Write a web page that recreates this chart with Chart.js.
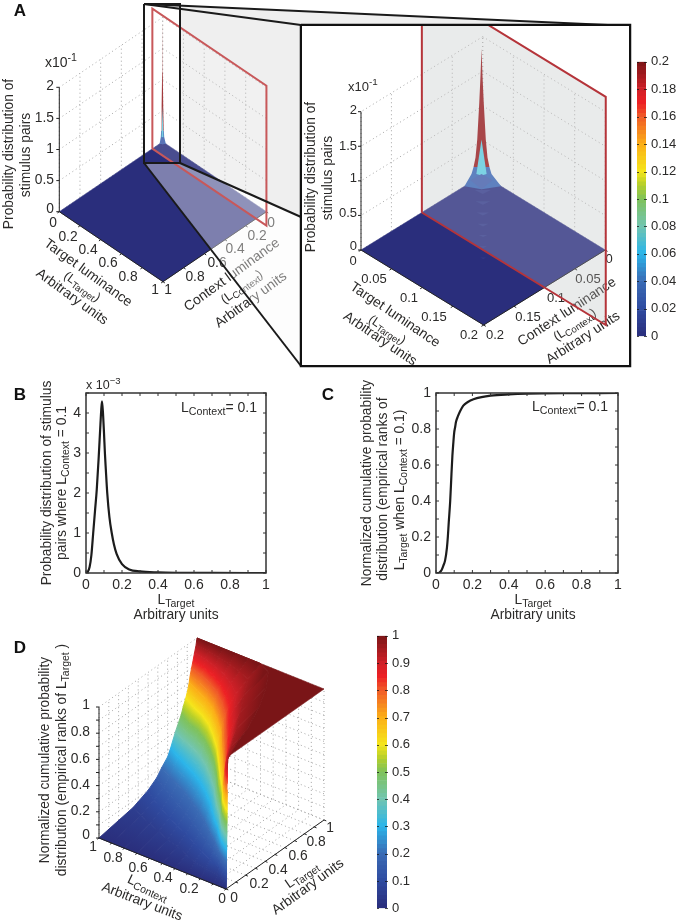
<!DOCTYPE html>
<html>
<head>
<meta charset="utf-8">
<script src="https://cdn.jsdelivr.net/npm/chart.js@4"></script>
<style>
  html, body { margin: 0; padding: 0; background: #fff; }
  #page { position: relative; width: 680px; height: 924px; overflow: hidden; }
  canvas { position: absolute; }
</style>
</head>
<body>
<div id="page">
  <canvas id="sceneA" style="left:0;top:0" width="680" height="372"></canvas>
  <canvas id="inset" style="left:302px;top:26px;background:#fff" width="327" height="339"></canvas>
  <canvas id="barA" style="left:637px;top:49px" width="43" height="300"></canvas>
  <canvas id="lineB" style="left:0;top:372px" width="340" height="250"></canvas>
  <canvas id="lineC" style="left:340px;top:372px" width="340" height="250"></canvas>
  <canvas id="sceneD" style="left:0;top:622px" width="372" height="302"></canvas>
  <canvas id="barD" style="left:377px;top:623px" width="44" height="298"></canvas>
</div>
<script>
// panel B: probability (x10^-3) against L target
const probT = [0, .01, .02, .03, .04, .05, .06, .07, .08, .085, .089, .095, .1, .105, .11, .118, .13, .143, .155, .17, .2, .24, .3, .4, .5, .7, 1];
const probY = [0, .03, .15, .45, 1, 1.55, 2.1, 2.85, 3.7, 4.1, 4.29, 3.95, 3.5, 3, 2.6, 2, 1.4, 1, .72, .48, .22, .09, .04, .015, .005, .001, 0];

// panel C: normalized cumulative probability against L target
const cumT = [0, .01, .02, .03, .04, .05, .06, .065, .07, .078, .085, .09, .095, .1, .105, .11, .12, .133, .15, .175, .206, .25, .3, .4, .5, .7, 1];
const cumY = [0, 0, .004, .015, .04, .07, .14, .2, .28, .4, .55, .65, .72, .78, .81, .84, .87, .9, .93, .95, .965, .977, .985, .992, .996, .999, 1];

// panel A: the peak of the joint distribution (z in x10^-1)
const peakAt = [.006, .008];
const spireZ = [1.9, 1.52, 1.13, .59, .33, .19, .09];
const spireW = [0, .0008, .0018, .0035, .0049, .0065, .0082];
const ridgeT = [.02, .035, .05, .065, .08, .095, .11];
const ridgeW = [.0066, .006, .005, .0045, .0035, .003, .0025];

// panel D: target luminance reached at each rank level, one row per context
const rankLevels = [0, .05, .1, .15, .2, .25, .3, .35, .4, .45, .5, .55, .6, .65, .7, .75, .8, .85, .9, .95, 1];
const contexts = [0, .03, .06, .1, .2, .3, .4, .5, .6, .7, .8, .9, 1];
const targetAt = [
  [0, .002, .003, .004, .005, .005, .006, .006, .007, .007, .008, .008, .009, .009, .01, .01, .011, .012, .013, .016, .02],
  [0, .013, .016, .018, .02, .021, .022, .023, .024, .025, .026, .026, .028, .029, .029, .031, .032, .035, .041, .053, .12],
  [0, .025, .032, .036, .039, .041, .044, .046, .047, .049, .051, .053, .055, .057, .059, .061, .064, .071, .082, .105, .2],
  [0, .042, .053, .06, .065, .069, .073, .076, .079, .082, .085, .088, .092, .095, .098, .102, .107, .118, .136, .175, .35],
  [0, .05, .095, .125, .145, .16, .172, .18, .187, .195, .2, .207, .215, .222, .23, .24, .255, .275, .31, .37, .6],
  [0, .07, .14, .19, .22, .24, .26, .275, .285, .295, .305, .315, .325, .335, .35, .365, .385, .42, .47, .53, .8],
  [0, .11, .19, .25, .3, .33, .36, .38, .395, .41, .42, .43, .44, .45, .465, .485, .51, .545, .6, .7, .95],
  [0, .15, .24, .31, .37, .41, .445, .47, .49, .51, .525, .54, .55, .57, .59, .61, .64, .68, .75, .87, 1],
  [0, .18, .28, .37, .43, .48, .52, .55, .575, .595, .615, .63, .645, .665, .685, .705, .735, .775, .825, .91, 1],
  [0, .22, .33, .42, .49, .54, .58, .615, .645, .67, .69, .71, .73, .75, .77, .79, .815, .845, .885, .94, 1],
  [0, .26, .38, .47, .54, .59, .63, .665, .695, .725, .75, .77, .79, .81, .83, .85, .87, .9, .925, .96, 1],
  [0, .3, .43, .53, .59, .64, .68, .71, .735, .76, .785, .81, .835, .855, .875, .895, .915, .935, .955, .98, 1],
  [0, .35, .5, .59, .64, .7, .73, .755, .78, .81, .84, .86, .885, .905, .92, .93, .945, .96, .975, .99, 1]
];

const cmapStops = [
  [0, '#2a2e7c'], [.1, '#2f4ba0'], [.2, '#3a6cb5'], [.3, '#2bb5ea'], [.4, '#72c5b0'], [.5, '#7fc25a'],
  [.55, '#b5cf2a'], [.6, '#f5e51b'], [.7, '#fbae17'], [.8, '#f05a28'], [.85, '#ed2024'], [.9, '#ce2027'], [1, '#7a1517']
];
const FONT = '"Liberation Sans", Arial, sans-serif';
const INK = '#2b2a29';
const DOT = '#a4a4a4';

function hexRgb(h) { return [1, 3, 5].map(i => parseInt(h.substr(i, 2), 16)); }
function cmap(v) {
  for (let i = 1; i < cmapStops.length; i++) {
    if (v <= cmapStops[i][0]) {
      const a = cmapStops[i - 1], b = cmapStops[i];
      const f = (v - a[0]) / (b[0] - a[0]);
      const ca = hexRgb(a[1]), cb = hexRgb(b[1]);
      return 'rgb(' + ca.map((x, k) => Math.round(x + (cb[k] - x) * f)).join(',') + ')';
    }
  }
  return cmapStops[cmapStops.length - 1][1];
}

// text helper, understands _{sub} and ^{sup}; coordinates are page pixels
function drawLabel(ctx, l) {
  const size = l.size || 13.8;
  const parts = l.s.split(/(_\{.*?\}|\^\{.*?\})/).filter(p => p).map(p => {
    if (p[0] === '_' && p[1] === '{') return { t: p.slice(2, -1), size: size * .76, dy: size * .28 };
    if (p[0] === '^' && p[1] === '{') return { t: p.slice(2, -1), size: size * .76, dy: -size * .38 };
    return { t: p, size: size, dy: 0 };
  });
  const w = (l.weight || '') + ' ';
  let total = 0;
  parts.forEach(p => { ctx.font = w + p.size + 'px ' + FONT; p.w = ctx.measureText(p.t).width; total += p.w; });
  ctx.save();
  ctx.translate(l.x, l.y);
  ctx.rotate((l.rot || 0) * Math.PI / 180);
  ctx.fillStyle = l.color || INK;
  ctx.textBaseline = 'middle';
  ctx.textAlign = 'left';
  let x = l.align === 'right' ? -total : l.align === 'left' ? 0 : -total / 2;
  parts.forEach(p => {
    ctx.font = w + p.size + 'px ' + FONT;
    ctx.fillText(p.t, x, p.dy);
    x += p.w;
  });
  ctx.restore();
}

function textPlugin(labels, ox, oy, afterIndex) {
  const paint = chart => {
    const ctx = chart.ctx;
    ctx.save();
    ctx.translate(-ox, -oy);
    labels.forEach(l => drawLabel(ctx, l));
    ctx.restore();
  };
  if (afterIndex === undefined) return { id: 'pageText', afterDraw: paint };
  return { id: 'pageText', afterDatasetDraw(chart, args) { if (args.index === afterIndex) paint(chart); } };
}

// scene charts: the scales run in page pixels, the 3d views are projected onto them
function project(v, t, c, z) {
  return { x: v.bx + t * v.tx + c * v.cx, y: v.by + t * v.ty + c * v.cy - z * v.zp };
}
function poly(list, pts, opt) {
  opt = opt || {};
  list.push({
    data: pts, showLine: true, pointRadius: 0, tension: 0,
    fill: opt.fill ? 'shape' : false,
    backgroundColor: opt.fill || 'transparent',
    borderColor: opt.stroke || 'transparent',
    borderWidth: opt.width === undefined ? (opt.stroke ? 1 : 0) : opt.width,
    borderDash: opt.dash || [],
    borderCapStyle: opt.cap || 'butt'
  });
}
function closed(pts) { return pts.concat([pts[0]]); }
function sceneChart(id, datasets, left, top, w, h, plugins) {
  datasets.forEach((d, i) => { d.order = -i; });
  return new Chart(document.getElementById(id), {
    type: 'scatter',
    data: { datasets: datasets },
    plugins: plugins,
    options: {
      responsive: false, animation: false, events: [],
      layout: { padding: 0 },
      plugins: { legend: { display: false }, tooltip: { enabled: false } },
      scales: {
        x: { type: 'linear', display: false, min: left, max: left + w },
        y: { type: 'linear', display: false, min: top, max: top + h, reverse: true }
      }
    }
  });
}

// back walls of a 3d box, dotted
function wallLines(list, v, tKeep, cKeep, tTicks, cTicks, zTicks, zTop) {
  const o = { stroke: DOT, width: 1, dash: [1, 3] };
  zTicks.forEach(z => {
    poly(list, [project(v, tTicks[0], cKeep, z), project(v, tTicks[tTicks.length - 1], cKeep, z)], o);
    poly(list, [project(v, tKeep, cTicks[0], z), project(v, tKeep, cTicks[cTicks.length - 1], z)], o);
  });
  tTicks.forEach(t => poly(list, [project(v, t, cKeep, 0), project(v, t, cKeep, zTop)], o));
  cTicks.forEach(c => poly(list, [project(v, tKeep, c, 0), project(v, tKeep, c, zTop)], o));
}

function axisLines(list, v, m, tTicks, cTicks, zTicks, tEdge, cEdge, zT, zC) {
  const o = { stroke: '#222', width: 1 };
  const tick = .018 * m;
  poly(list, [project(v, zT, zC, 0), project(v, zT, zC, zTicks[zTicks.length - 1])], o);
  zTicks.forEach(z => {
    const p = project(v, zT, zC, z);
    poly(list, [p, { x: p.x - 3, y: p.y }], o);
  });
  poly(list, [project(v, 0, cEdge, 0), project(v, m, cEdge, 0)], o);
  poly(list, [project(v, tEdge, 0, 0), project(v, tEdge, m, 0)], o);
  const sc = cEdge > 0 ? 1 : -1, st = tEdge > 0 ? 1 : -1;
  tTicks.forEach(t => poly(list, [project(v, t, cEdge, 0), project(v, t, cEdge + sc * tick, 0)], o));
  cTicks.forEach(c => poly(list, [project(v, tEdge, c, 0), project(v, tEdge + st * tick, c, 0)], o));
}

function probSurface(list, v, m) {
  const t0 = peakAt[0], c0 = peakAt[1];
  poly(list, closed([project(v, 0, 0, 0), project(v, m, 0, 0), project(v, m, m, 0), project(v, 0, m, 0)]), { fill: cmap(0), stroke: cmap(0), width: .5 });
  // faint ridge along the diagonal, in front of the peak
  ridgeT.forEach((t, i) => {
    const w = ridgeW[i];
    poly(list, closed([project(v, t + w, t - w, 0), project(v, t - w, t + w, 0), project(v, t + w * .8, t + w * .8, 0)]), { fill: 'rgba(90,130,205,.14)' });
  });
  const side = (sign, from, to) => spireZ.slice(from, to).map((z, i) => project(v, t0 + sign * spireW[from + i], c0 - sign * spireW[from + i], z));
  // lower flanks run out onto the floor edges
  poly(list, closed(side(1, 5, 7).concat([project(v, .03, 0, 0), project(v, t0 + .012, c0 + .012, 0), project(v, 0, .03, 0)]).concat(side(-1, 5, 7).reverse())), { fill: cmap(.17) });
  // red upper part
  poly(list, closed(side(1, 0, 6).concat(side(-1, 0, 6).reverse())), { fill: cmap(.97) });
  // cyan facet
  poly(list, closed([project(v, t0, c0, spireZ[3]), project(v, t0 + .0042, c0 - .0042, spireZ[6]), project(v, t0 + .002, c0 + .002, spireZ[6]), project(v, t0 - .0042, c0 + .0042, spireZ[6])]), { fill: '#5cc7dc' });
  // front chevron
  poly(list, closed([project(v, t0, c0, spireZ[6]), project(v, t0 + .009, c0 - .009, 0), project(v, t0 + .012, c0 + .012, 0), project(v, t0 - .009, c0 + .009, 0)]), { fill: '#3f5aa8' });
}

function redPlane(list, v, tEnd, zTop, fill) {
  const c = .1;
  const pts = closed([project(v, 0, c, 0), project(v, tEnd, c, 0), project(v, tEnd, c, zTop), project(v, 0, c, zTop)]);
  poly(list, pts, { fill: fill });
  return pts;
}

// ---- panel A, full range view
const viewFull = { bx: 162.7, by: 141.7, tx: 103.7, ty: 70, cx: -103.4, cy: 70, zp: 62.2 };
const ticks02 = [0, .2, .4, .6, .8, 1];
const zTicksA = [0, .5, 1, 1.5, 2];
const labelsA = [
  { s: 'A', x: 20, y: 11, size: 17, weight: 'bold', color: '#111' },
  { s: 'x10^{-1}', x: 45, y: 63, size: 14, align: 'left' },
  { s: '2', x: 54, y: 86, align: 'right' }, { s: '1.5', x: 54, y: 118, align: 'right' },
  { s: '1', x: 54, y: 149, align: 'right' }, { s: '0.5', x: 54, y: 180, align: 'right' },
  { s: '0', x: 54, y: 209, align: 'right' },
  { s: 'Probability distribution of', x: 9, y: 154, rot: -90 },
  { s: 'stimulus pairs', x: 26, y: 155, rot: -90 },
  { s: '0', x: 53, y: 223 }, { s: '0.2', x: 68, y: 237 }, { s: '0.4', x: 88, y: 250 },
  { s: '0.6', x: 108, y: 263 }, { s: '0.8', x: 128, y: 277 }, { s: '1', x: 155, y: 290 },
  { s: '1', x: 168, y: 290 }, { s: '0.8', x: 195, y: 277 }, { s: '0.6', x: 217, y: 263 },
  { s: '0.4', x: 235, y: 249 }, { s: '0.2', x: 257, y: 236 }, { s: '0', x: 271, y: 223 },
  { s: 'Target luminance', x: 88, y: 273, rot: 36 },
  { s: '(L_{Target})', x: 82, y: 287, rot: 36, size: 12.5 },
  { s: 'Arbitrary units', x: 72, y: 297, rot: 36 },
  { s: 'Context luminance', x: 232, y: 275, rot: -36 },
  { s: '(L_{Context})', x: 242, y: 287, rot: -36, size: 12.5 },
  { s: 'Arbitrary units', x: 251, y: 300, rot: -36 }
];
const setA = [];
const frame = { stroke: '#1a1a1a', width: 2 };
poly(setA, closed([{ x: 144, y: 4 }, { x: 630, y: 26 }, { x: 301, y: 25 }]), { fill: '#efefef' });
poly(setA, closed([{ x: 180, y: 9 }, { x: 301, y: 25 }, { x: 301, y: 217 }, { x: 180, y: 163 }]), { fill: '#efefef' });
wallLines(setA, viewFull, 0, 0, ticks02, ticks02, zTicksA, 2);
probSurface(setA, viewFull, 1);
const planeA = redPlane(setA, viewFull, 1.1, 2.25, 'rgba(255,255,255,.15)');
axisLines(setA, viewFull, 1, ticks02, ticks02, zTicksA, 1, 1, 0, 1);
poly(setA, closed([{ x: 144, y: 163 }, { x: 180, y: 163 }, { x: 301, y: 217 }, { x: 301, y: 366 }]), { fill: 'rgba(250,250,250,.4)' });
poly(setA, planeA, { stroke: '#c8585a', width: 2 });
poly(setA, closed([{ x: 144, y: 4 }, { x: 180, y: 4 }, { x: 180, y: 163 }, { x: 144, y: 163 }]), frame);
poly(setA, [{ x: 144, y: 4 }, { x: 630, y: 26 }], frame);
poly(setA, [{ x: 144, y: 4 }, { x: 301, y: 25 }], frame);
poly(setA, [{ x: 144, y: 163 }, { x: 301, y: 366 }], frame);
poly(setA, [{ x: 180, y: 163 }, { x: 301, y: 217 }], frame);
poly(setA, closed([{ x: 301, y: 25 }, { x: 630, y: 25 }, { x: 630, y: 366 }, { x: 301, y: 366 }]), { stroke: '#111', width: 2.5 });
sceneChart('sceneA', setA, 0, 0, 680, 372, [textPlugin(labelsA, 0, 0, 1)]);

// ---- panel A, zoomed inset
const viewInset = { bx: 482.7, by: 175, tx: 613, ty: 375, cx: -608.5, cy: 375, zp: 69.15 };
const ticks005 = [0, .05, .1, .15, .2];
const labelsInset = [
  { s: 'x10^{-1}', x: 348, y: 87, size: 13, align: 'left' },
  { s: '2', x: 357, y: 110, size: 13, align: 'right' }, { s: '1.5', x: 357, y: 146, size: 13, align: 'right' },
  { s: '1', x: 357, y: 178, size: 13, align: 'right' }, { s: '0.5', x: 357, y: 213, size: 13, align: 'right' },
  { s: '0', x: 357, y: 246, size: 13, align: 'right' },
  { s: 'Probability distribution of', x: 311, y: 177, rot: -90 },
  { s: 'stimulus pairs', x: 328, y: 178, rot: -90 },
  { s: '0', x: 353, y: 261, size: 13 }, { s: '0.05', x: 374, y: 279, size: 13 }, { s: '0.1', x: 409, y: 298, size: 13 },
  { s: '0.15', x: 434, y: 317, size: 13 }, { s: '0.2', x: 469, y: 335, size: 13 },
  { s: '0.2', x: 495, y: 335, size: 13 }, { s: '0.15', x: 528, y: 317, size: 13 }, { s: '0.1', x: 556, y: 298, size: 13 },
  { s: '0.05', x: 588, y: 279, size: 13 }, { s: '0', x: 609, y: 259, size: 13 },
  { s: 'Target luminance', x: 395, y: 315, rot: 34 },
  { s: '(L_{Target})', x: 387, y: 330, rot: 34, size: 12.5 },
  { s: 'Arbitrary units', x: 380, y: 339, rot: 34 },
  { s: 'Context luminance', x: 567, y: 312, rot: -33 },
  { s: '(L_{Context})', x: 575, y: 325, rot: -33, size: 12.5 },
  { s: 'Arbitrary units', x: 583, y: 338, rot: -33 }
];
const setInset = [];
const planeInset = redPlane(setInset, viewInset, .3, 3.3, '#e4e6e6');
wallLines(setInset, viewInset, 0, 0, ticks005, ticks005, zTicksA, 2);
probSurface(setInset, viewInset, .2);
axisLines(setInset, viewInset, .2, ticks005, ticks005, zTicksA, .2, .2, 0, .2);
poly(setInset, planeInset, { fill: 'rgba(255,255,255,.2)' });
poly(setInset, planeInset, { stroke: '#b5343a', width: 2 });
sceneChart('inset', setInset, 302, 26, 327, 339, [textPlugin(labelsInset, 302, 26, 0)]);

// ---- line panels B and C
const boxTicks = {
  id: 'boxTicks',
  afterDatasetsDraw(chart) {
    const { ctx, chartArea: a, scales } = chart;
    ctx.save();
    ctx.strokeStyle = '#333';
    ctx.lineWidth = 1;
    ctx.beginPath();
    scales.x.ticks.forEach(t => {
      const p = scales.x.getPixelForValue(t.value);
      ctx.moveTo(p, a.bottom); ctx.lineTo(p, a.bottom - 3);
      ctx.moveTo(p, a.top); ctx.lineTo(p, a.top + 3);
    });
    scales.y.ticks.forEach(t => {
      const p = scales.y.getPixelForValue(t.value);
      ctx.moveTo(a.left, p); ctx.lineTo(a.left + 3, p);
      ctx.moveTo(a.right, p); ctx.lineTo(a.right - 3, p);
    });
    ctx.stroke();
    ctx.lineWidth = 1.5;
    ctx.strokeRect(a.left, a.top, a.right - a.left, a.bottom - a.top);
    ctx.restore();
  }
};
function lineChart(id, xs, ys, yMax, yStep, yLabel, padding, lineWidth, labels, ox, oy) {
  return new Chart(document.getElementById(id), {
    type: 'line',
    data: { datasets: [{ data: xs.map((x, i) => ({ x: x, y: ys[i] })), borderColor: '#1c1c1c', borderWidth: lineWidth, pointRadius: 0, cubicInterpolationMode: 'monotone', fill: false }] },
    plugins: [boxTicks, textPlugin(labels, ox, oy)],
    options: {
      responsive: false, animation: false, events: [],
      layout: { padding: padding },
      plugins: { legend: { display: false }, tooltip: { enabled: false } },
      scales: {
        x: {
          type: 'linear', min: 0, max: 1,
          grid: { display: false, drawTicks: false }, border: { display: false },
          afterFit: s => { s.height = 20; },
          ticks: {
            stepSize: .1, autoSkip: false, maxRotation: 0, padding: 4,
            color: INK, font: { family: FONT, size: 14 },
            callback: v => (Math.round(v * 10) % 2 === 0 ? String(+v.toFixed(1)) : '')
          }
        },
        y: {
          type: 'linear', min: 0, max: yMax,
          grid: { display: false, drawTicks: false }, border: { display: false },
          afterFit: s => { s.width = 30; },
          ticks: {
            stepSize: yStep, autoSkip: false, padding: 5,
            color: INK, font: { family: FONT, size: 14 },
            callback: yLabel
          }
        }
      }
    }
  });
}
const labelsB = [
  { s: 'B', x: 20, y: 395, size: 17, weight: 'bold', color: '#111' },
  { s: 'C', x: 328, y: 395, size: 17, weight: 'bold', color: '#111' },
  { s: 'x 10^{−3}', x: 86, y: 386, size: 12.5, align: 'left' },
  { s: 'Probability distribution of stimulus', x: 47, y: 483, rot: -90 },
  { s: 'pairs where L_{Context} = 0.1', x: 62, y: 483, rot: -90 },
  { s: 'L_{Target}', x: 176, y: 600 },
  { s: 'Arbitrary units', x: 176, y: 615 },
  { s: 'L_{Context}= 0.1', x: 219, y: 408, size: 14 }
];
const labelsC = [
  { s: 'Normalized cumulative probability', x: 367, y: 483, rot: -90 },
  { s: 'distribution (empirical ranks of', x: 383, y: 489, rot: -90 },
  { s: 'L_{Target} when L_{Context} = 0.1)', x: 400, y: 490, rot: -90 },
  { s: 'L_{Target}', x: 533, y: 600 },
  { s: 'Arbitrary units', x: 533, y: 615 },
  { s: 'L_{Context}= 0.1', x: 570, y: 407, size: 14 }
];
lineChart('lineB', probT, probY, 4.5, .5, v => (Number.isInteger(v) ? String(v) : ''),
  { left: 56, right: 74, top: 21, bottom: 29 }, 2.2, labelsB, 0, 372);
lineChart('lineC', cumT, cumY, 1, .1, v => (Math.round(v * 10) % 2 === 0 ? String(+v.toFixed(1)) : ''),
  { left: 66, right: 62, top: 21, bottom: 29 }, 2.2, labelsC, 340, 372);

// ---- panel D, rank surface
const viewD = { bx: 226, by: 889, tx: 98, ty: -69, cx: -127, cy: -51, zp: 131 };
const ticks01 = [0, .1, .2, .3, .4, .5, .6, .7, .8, .9, 1];
const setD = [];
const ctxD = document.getElementById('sceneD').getContext('2d');
// floor and the two back walls
ticks01.forEach(a => {
  const o = { stroke: DOT, width: 1, dash: [1, 3] };
  poly(setD, [project(viewD, a, 0, 0), project(viewD, a, 1, 0)], o);
  poly(setD, [project(viewD, 0, a, 0), project(viewD, 1, a, 0)], o);
});
wallLines(setD, viewD, 1, 1, ticks01, ticks01, ticks01, 1);
// plateau at rank 1
poly(setD, closed(contexts.map((c, i) => project(viewD, targetAt[i][20], c, 1)).concat(contexts.map(c => project(viewD, 1, c, 1)).reverse())), { fill: cmap(1), stroke: cmap(1), width: .6 });

// one cell between two contexts and two rank levels, shaded across the cell
function rankCell(i, k) {
  const a = project(viewD, targetAt[i][k], contexts[i], rankLevels[k]);
  const b = project(viewD, targetAt[i + 1][k], contexts[i + 1], rankLevels[k]);
  const c = project(viewD, targetAt[i + 1][k + 1], contexts[i + 1], rankLevels[k + 1]);
  const d = project(viewD, targetAt[i][k + 1], contexts[i], rankLevels[k + 1]);
  const mx = (a.x + b.x) / 2, my = (a.y + b.y) / 2;
  const ex = b.x - a.x, ey = b.y - a.y, len = Math.hypot(ex, ey) || 1;
  const nx = -ey / len, ny = ex / len;
  const dot = ((c.x + d.x) / 2 - mx) * nx + ((c.y + d.y) / 2 - my) * ny;
  const g = ctxD.createLinearGradient(mx, my - 622, mx + nx * dot, my + ny * dot - 622);
  g.addColorStop(0, cmap(rankLevels[k]));
  g.addColorStop(1, cmap(rankLevels[k + 1]));
  poly(setD, closed([a, b, c, d]), { fill: g, stroke: g, width: 1 });
}
// far (high) levels first, the near ones paint over them
for (let k = rankLevels.length - 2; k >= 0; k--) {
  for (let i = 0; i < contexts.length - 1; i++) rankCell(i, k);
}
axisLines(setD, viewD, 1, ticks01, ticks01, ticks01, 0, 0, 0, 1);
const labelsD = [
  { s: 'D', x: 20, y: 648, size: 17, weight: 'bold', color: '#111' },
  { s: 'Normalized cumulative probability', x: 45, y: 760, rot: -90 },
  { s: 'distribution (empirical ranks of L_{Target} )', x: 62, y: 760, rot: -90 },
  { s: '1', x: 90, y: 705, align: 'right' }, { s: '0.8', x: 90, y: 732, align: 'right' },
  { s: '0.6', x: 90, y: 759, align: 'right' }, { s: '0.4', x: 90, y: 785, align: 'right' },
  { s: '0.2', x: 90, y: 811, align: 'right' }, { s: '0', x: 90, y: 835, align: 'right' },
  { s: '1', x: 93, y: 847 }, { s: '0.8', x: 113, y: 858 }, { s: '0.6', x: 138, y: 868 },
  { s: '0.4', x: 163, y: 878 }, { s: '0.2', x: 189, y: 889 }, { s: '0', x: 222, y: 899 },
  { s: '0', x: 234, y: 898 }, { s: '0.2', x: 259, y: 884 }, { s: '0.4', x: 278, y: 870 },
  { s: '0.6', x: 298, y: 856 }, { s: '0.8', x: 316, y: 842 }, { s: '1', x: 330, y: 828 },
  { s: 'L_{Context}', x: 148, y: 888, rot: 25 },
  { s: 'Arbitrary units', x: 142, y: 902, rot: 21 },
  { s: 'L_{Target}', x: 302, y: 875, rot: -35 },
  { s: 'Arbitrary units', x: 308, y: 887, rot: -36 }
];
sceneChart('sceneD', setD, 0, 622, 372, 302, [textPlugin(labelsD, 0, 622)]);

// ---- colour bars
function colourBar(id, max, step, digits) {
  const segs = Array.from({ length: 64 }, (_, i) => i);
  new Chart(document.getElementById(id), {
    type: 'bar',
    data: {
      labels: [''],
      datasets: segs.map(i => ({
        data: [[i / 64 * max, (i + 1) / 64 * max]],
        backgroundColor: cmap((i + .5) / 64), borderWidth: 0, barPercentage: 1, categoryPercentage: 1
      }))
    },
    plugins: [{
      id: 'barTicks',
      afterDatasetsDraw(chart) {
        const { ctx, chartArea: a, scales } = chart;
        ctx.save();
        ctx.strokeStyle = 'rgba(20,20,20,.75)';
        ctx.lineWidth = 1;
        ctx.beginPath();
        scales.y.ticks.forEach(t => {
          const p = Math.round(scales.y.getPixelForValue(t.value)) + .5;
          ctx.moveTo(a.left, p); ctx.lineTo(a.left + 2, p);
          ctx.moveTo(a.right - 2, p); ctx.lineTo(a.right + 1, p);
        });
        ctx.stroke();
        ctx.restore();
      }
    }],
    options: {
      responsive: false, animation: false, events: [],
      layout: { padding: { top: 8, bottom: 8 } },
      plugins: { legend: { display: false }, tooltip: { enabled: false } },
      scales: {
        x: { stacked: true, display: false },
        y: {
          position: 'right', min: 0, max: max,
          grid: { display: false, drawTicks: false }, border: { display: false },
          afterFit: s => { s.width = 34; },
          ticks: { stepSize: step, padding: 5, autoSkip: false, color: INK, font: { family: FONT, size: 13 }, callback: v => String(+v.toFixed(digits)) }
        }
      }
    }
  });
}
colourBar('barA', .2, .02, 2);
colourBar('barD', 1, .1, 1);
</script>
</body>
</html>
